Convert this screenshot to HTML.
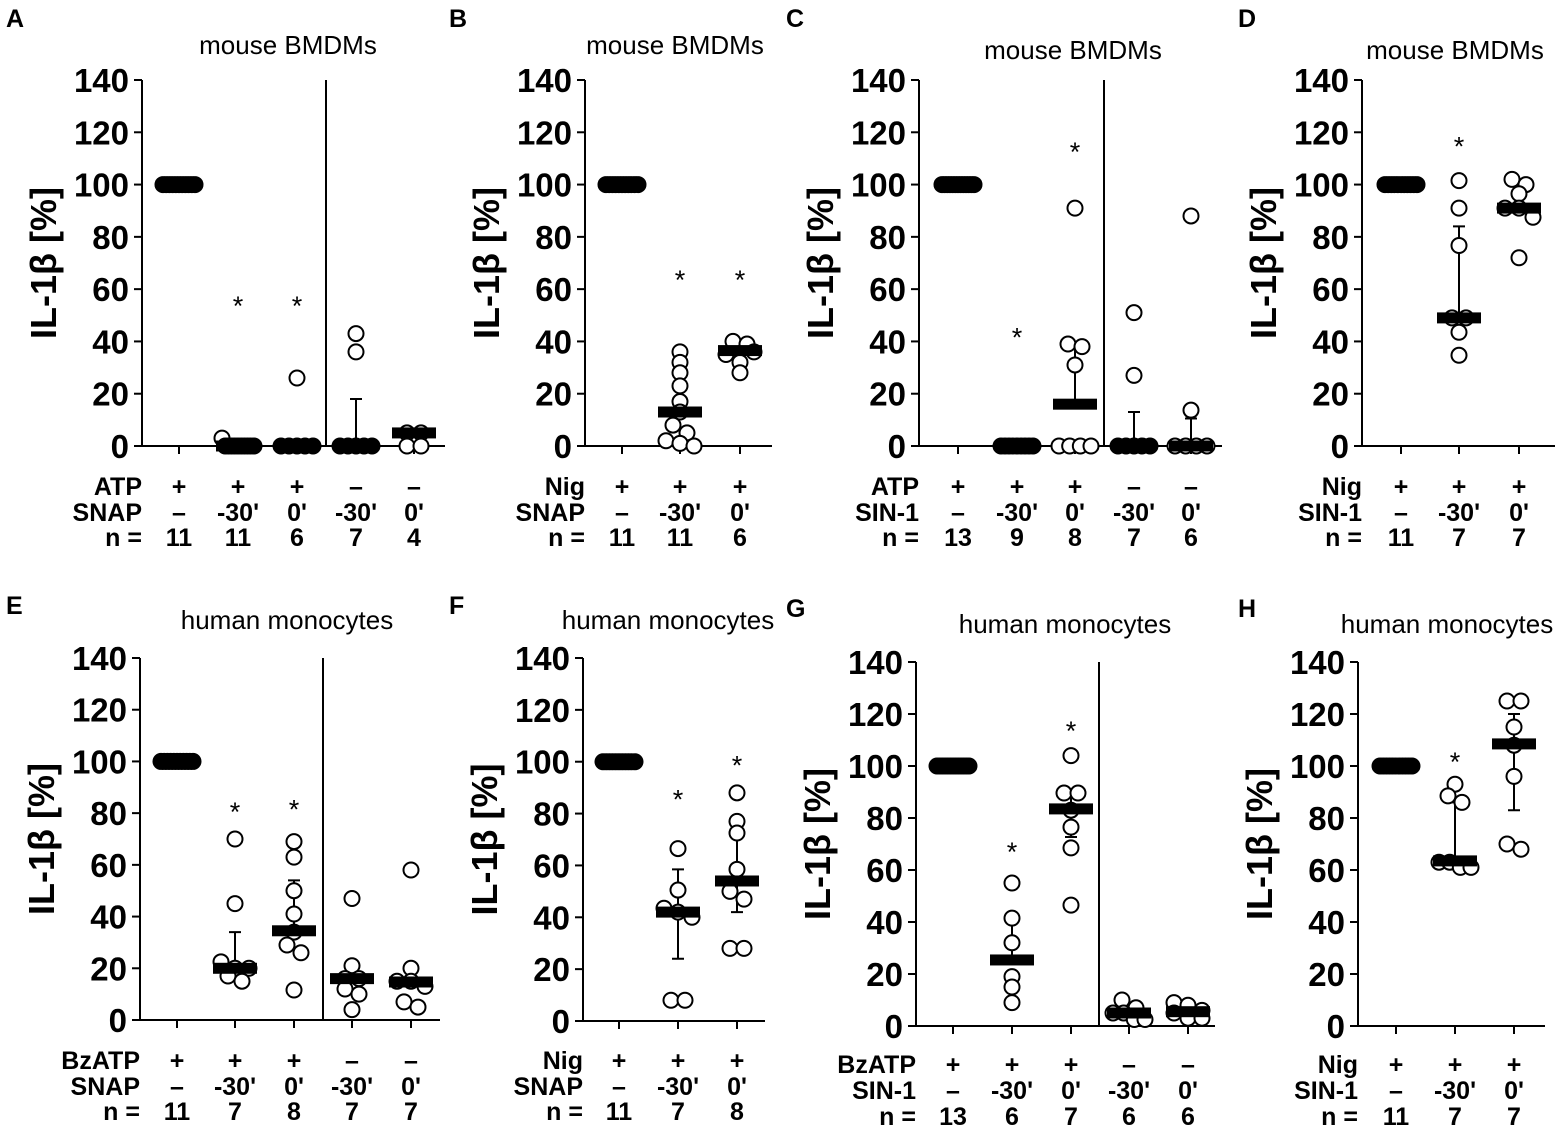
<!DOCTYPE html>
<html><head><meta charset="utf-8"><style>
html,body{margin:0;padding:0;background:#fff;}
svg{display:block;font-family:"Liberation Sans",Arial,sans-serif;}
</style></head><body>
<svg id="fig" width="1556" height="1132" viewBox="0 0 1556 1132" xmlns="http://www.w3.org/2000/svg"></svg>
<script>
// ---- data ----
const yTicks = [0,20,40,60,80,100,120,140];

const A_points = [[100,100,100,100,100,100,100,100,100,100,100],[3,0,0,0,0,0,0,0,0,0,0],[26,0,0,0,0,0],[43,36,0,0,0,0,0],[5,5,0,0]];
const A_median = [100,0,0,0,5];
const A_errTop = [null,null,null,18,null];
const A_errBot = [null,null,null,null,null];
const A_stars = [null,55,55,null,null];
const A_row1 = ["+","+","+","–","–"];
const A_row2 = ["–","-30'","0'","-30'","0'"];
const A_n = ["11","11","6","7","4"];

const B_points = [[100,100,100,100,100,100,100,100,100,100,100],[36,32,28,23,17,13,8,5,2,1,0],[40,39,35,32,28,36]];
const B_median = [100,13,36.5];
const B_errTop = [null,27,null];
const B_errBot = [null,null,null];
const B_stars = [null,65,65];
const B_row1 = ["+","+","+"];
const B_row2 = ["–","-30'","0'"];
const B_n = ["11","11","6"];

const C_points = [[100,100,100,100,100,100,100,100,100,100,100,100,100],[0,0,0,0,0,0,0,0,0],[91,39,38,31,0,0,0,0],[51,27,0,0,0,0,0],[88,13.7,0,0,0,0]];
const C_median = [100,0,16,0,0];
const C_errTop = [null,null,37,13,10.5];
const C_errBot = [null,null,null,null,null];
const C_stars = [null,43,114,null,null];
const C_row1 = ["+","+","+","–","–"];
const C_row2 = ["–","-30'","0'","-30'","0'"];
const C_n = ["13","9","8","7","6"];

const D_points = [[100,100,100,100,100,100,100,100,100,100,100],[101.5,91,76.7,49,49,43.5,34.7],[102,100,96.5,91,91,87.5,72]];
const D_median = [100,49,91];
const D_errTop = [null,84,97];
const D_errBot = [null,null,null];
const D_stars = [null,116,null];
const D_row1 = ["+","+","+"];
const D_row2 = ["–","-30'","0'"];
const D_n = ["11","7","7"];

const E_points = [[100,100,100,100,100,100,100,100,100,100,100],[70,45,22.5,20,17,15,20],[69,63,50,41,34,29,26,11.6],[47,21,16,16,12,10,4],[58,20,15,15,13,7,5]];
const E_median = [100,20,34.5,16,14.7];
const E_errTop = [null,34,54,null,null];
const E_errBot = [null,null,null,null,null];
const E_stars = [null,82,83,null,null];
const E_row1 = ["+","+","+","–","–"];
const E_row2 = ["–","-30'","0'","-30'","0'"];
const E_n = ["11","7","8","7","7"];

const F_points = [[100,100,100,100,100,100,100,100,100,100,100],[66.5,50.5,43.5,42,40,8,8],[88,77,72.5,58.5,50,47,28,28]];
const F_median = [100,42,54];
const F_errTop = [null,58.5,74];
const F_errBot = [null,24,42];
const F_stars = [null,87,100];
const F_row1 = ["+","+","+"];
const F_row2 = ["–","-30'","0'"];
const F_n = ["11","7","8"];

const G_points = [[100,100,100,100,100,100,100,100,100,100,100,100,100],[55,41.5,32,19,15,9],[104,89.6,89.6,83,76.5,68.5,46.5],[10,5,5,2.5,2.5,7],[9,8,5,3,3,6]];
const G_median = [100,25.4,83.5,5,5.5];
const G_errTop = [null,40,89.6,null,null];
const G_errBot = [null,null,72.7,null,null];
const G_stars = [null,68.5,115,null,null];
const G_row1 = ["+","+","+","–","–"];
const G_row2 = ["–","-30'","0'","-30'","0'"];
const G_n = ["13","6","7","6","6"];

const H_points = [[100,100,100,100,100,100,100,100,100,100,100],[93,88.5,86,63,63,61,61],[125,125,115,108,96,70,68]];
const H_median = [100,63.5,108.5];
const H_errTop = [null,86,120];
const H_errBot = [null,null,83];
const H_stars = [null,103,null];
const H_row1 = ["+","+","+"];
const H_row2 = ["–","-30'","0'"];
const H_n = ["11","7","7"];

// ---- layout ----
const NS = "http://www.w3.org/2000/svg";
const svg = document.getElementById('fig');
function mk(tag, attrs, parent){
  const e = document.createElementNS(NS, tag);
  for (const k in attrs) e.setAttribute(k, attrs[k]);
  (parent||svg).appendChild(e);
  return e;
}

const panels = [
 {id:'a',letter:'A',lx:6,ly:27,title:'mouse BMDMs',tx:288,ty:54,ax:142,y0:446,ytop:80,xend:445,cats:[179,238,297,356,414],div:326,r1:'ATP',r2:'SNAP',rows:[486,512,537],
  pts:A_points,med:A_median,et:A_errTop,eb:A_errBot,st:A_stars,a1:A_row1,a2:A_row2,an:A_n},
 {id:'b',letter:'B',lx:449,ly:27,title:'mouse BMDMs',tx:675,ty:54,ax:585,y0:446,ytop:80,xend:772,cats:[622,680,740],div:null,r1:'Nig',r2:'SNAP',rows:[486,512,537],
  pts:B_points,med:B_median,et:B_errTop,eb:B_errBot,st:B_stars,a1:B_row1,a2:B_row2,an:B_n},
 {id:'c',letter:'C',lx:786,ly:27,title:'mouse BMDMs',tx:1073,ty:59,ax:919,y0:446,ytop:80,xend:1222,cats:[958,1017,1075,1134,1191],div:1104,r1:'ATP',r2:'SIN-1',rows:[486,512,537],
  pts:C_points,med:C_median,et:C_errTop,eb:C_errBot,st:C_stars,a1:C_row1,a2:C_row2,an:C_n},
 {id:'d',letter:'D',lx:1238,ly:27,title:'mouse BMDMs',tx:1455,ty:59,ax:1362,y0:446,ytop:80,xend:1555,cats:[1401,1459,1519],div:null,r1:'Nig',r2:'SIN-1',rows:[486,512,537],
  pts:D_points,med:D_median,et:D_errTop,eb:D_errBot,st:D_stars,a1:D_row1,a2:D_row2,an:D_n},
 {id:'e',letter:'E',lx:6,ly:614,title:'human monocytes',tx:287,ty:629,ax:140,y0:1020,ytop:658,xend:440,cats:[177,235,294,352,411],div:323,r1:'BzATP',r2:'SNAP',rows:[1060,1086,1111],
  pts:E_points,med:E_median,et:E_errTop,eb:E_errBot,st:E_stars,a1:E_row1,a2:E_row2,an:E_n},
 {id:'f',letter:'F',lx:449,ly:614,title:'human monocytes',tx:668,ty:629,ax:583,y0:1021,ytop:658,xend:765,cats:[619,678,737],div:null,r1:'Nig',r2:'SNAP',rows:[1060,1086,1111],
  pts:F_points,med:F_median,et:F_errTop,eb:F_errBot,st:F_stars,a1:F_row1,a2:F_row2,an:F_n},
 {id:'g',letter:'G',lx:786,ly:617,title:'human monocytes',tx:1065,ty:633,ax:916,y0:1026,ytop:662,xend:1215,cats:[953,1012,1071,1129,1188],div:1099,r1:'BzATP',r2:'SIN-1',rows:[1064,1090,1116],
  pts:G_points,med:G_median,et:G_errTop,eb:G_errBot,st:G_stars,a1:G_row1,a2:G_row2,an:G_n},
 {id:'h',letter:'H',lx:1238,ly:617,title:'human monocytes',tx:1447,ty:633,ax:1358,y0:1026,ytop:662,xend:1545,cats:[1396,1455,1514],div:null,r1:'Nig',r2:'SIN-1',rows:[1064,1090,1116],
  pts:H_points,med:H_median,et:H_errTop,eb:H_errBot,st:H_stars,a1:H_row1,a2:H_row2,an:H_n}
];

panels.forEach(p => {
  const g = mk('g', {});
  
  
  const yS = v => p.y0 - (v/140)*(p.y0 - p.ytop);

  const letter = mk('text', {x:p.lx, y:p.ly, 'font-size':25, 'font-weight':'bold'}, g);
  letter.textContent = p.letter;
  
  

  const title = mk('text', {x:p.tx, y:p.ty, 'font-size':26, 'text-anchor':'middle'}, g);
  title.textContent = p.title;
  
  

  const yt = mk('text', {x:0, y:0, 'font-size':36, 'font-weight':'bold', 'text-anchor':'middle',
    transform:`translate(${p.ax-86},${(p.y0+p.ytop)/2}) rotate(-90)`}, g);
  yt.textContent = 'IL-1β [%]';
  
  

  const ya = mk('line', {x1:p.ax, y1:p.ytop, x2:p.ax, y2:p.y0+1, stroke:'#000', 'stroke-width':2}, g);
  
  
  const xa = mk('line', {x1:p.ax, y1:p.y0, x2:p.xend, y2:p.y0, stroke:'#000', 'stroke-width':2}, g);
  
  

  yTicks.forEach(t => {
    const y = yS(t);
    const tk = mk('line', {x1:p.ax-8, y1:y, x2:p.ax, y2:y, stroke:'#000', 'stroke-width':2}, g);
    
    
    const tl = mk('text', {x:p.ax-13, y:y+12, 'font-size':33, 'font-weight':'bold', 'text-anchor':'end'}, g);
    tl.textContent = t;
    
    
  });

  if (p.div !== null) {
    const dv = mk('line', {x1:p.div, y1:p.ytop, x2:p.div, y2:p.y0, stroke:'#000', 'stroke-width':2}, g);
    
    
  }

  const rl = [p.r1, p.r2, 'n ='];
  rl.forEach((t,i) => {
    const e = mk('text', {x:p.ax, y:p.rows[i]+9, 'font-size':25, 'font-weight':'bold', 'text-anchor':'end'}, g);
    e.textContent = t;
    
    
  });

  p.cats.forEach((cx, ci) => {
    const tk = mk('line', {x1:cx, y1:p.y0, x2:cx, y2:p.y0+8, stroke:'#000', 'stroke-width':2}, g);
    
    

    [p.a1[ci], p.a2[ci], p.an[ci]].forEach((t,i) => {
      const e = mk('text', {x:cx, y:p.rows[i]+9, 'font-size':25, 'font-weight':'bold', 'text-anchor':'middle'}, g);
      e.textContent = t;
      
      
    });

    const my = yS(p.med[ci]);
    if (p.et[ci] !== null) {
      const ty = yS(p.et[ci]);
      const eb = mk('path', {d:`M${cx},${my} V${ty} M${cx-6},${ty} H${cx+6}`, stroke:'#000', 'stroke-width':2, fill:'none'}, g);
      
      
    }
    if (p.eb[ci] !== null) {
      const by = yS(p.eb[ci]);
      const eb2 = mk('path', {d:`M${cx},${my} V${by} M${cx-6},${by} H${cx+6}`, stroke:'#000', 'stroke-width':2, fill:'none'}, g);
      
      
    }

    const vals = p.pts[ci];
    const used = new Array(vals.length).fill(false);
    vals.forEach((v,i) => {
      if (used[i]) return;
      const grp = [];
      vals.forEach((w,j) => { if (!used[j] && Math.abs(w - v) < 4) { grp.push(j); used[j] = true; } });
      const k = grp.length;
      const s = Math.min(16, 7*(k-1));
      // mode of the group
      let mode = vals[grp[0]], best = 0;
      grp.forEach(j => {
        const c = grp.filter(q => vals[q] === vals[j]).length;
        if (c > best) { best = c; mode = vals[j]; }
      });
      const dense = k >= 5;
      grp.forEach((j, gi) => {
        const off = k > 1 ? -s + 2*s*gi/(k-1) : 0;
        const black = dense && Math.abs(vals[j] - mode) < 1;
        const c = mk('circle', {cx:cx+off, cy:yS(vals[j]), r:7.5, fill: black ? '#000' : '#fff', stroke:'#000', 'stroke-width':2}, g);
        
        
      });
    });

    const mb = mk('rect', {x:cx-22, y:my-5.5, width:44, height:11, fill:'#000'}, g);
    
    

    if (p.st[ci] !== null) {
      const st = mk('text', {x:cx, y:yS(p.st[ci])+13, 'font-size':27, 'text-anchor':'middle'}, g);
      st.textContent = '*';
      
      
    }
  });
});
</script>
</body></html>
